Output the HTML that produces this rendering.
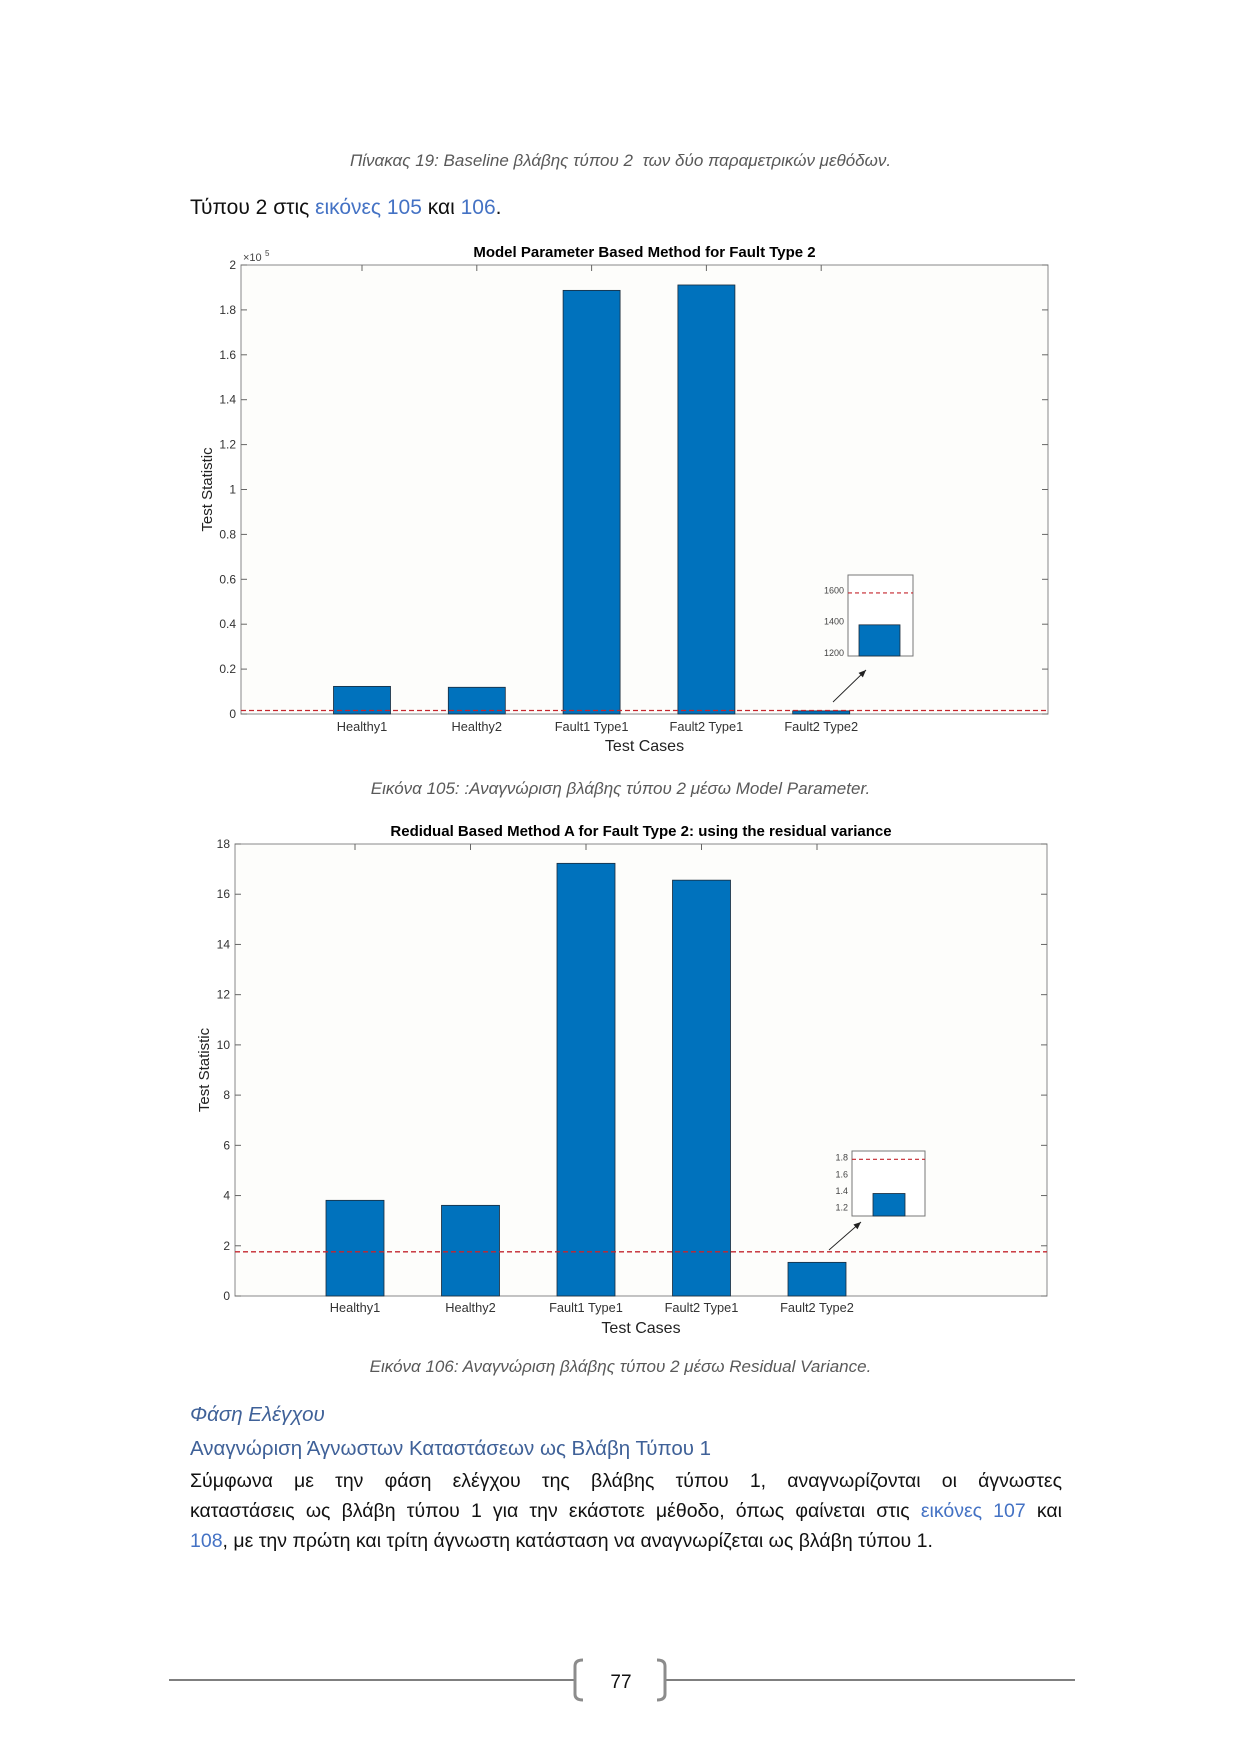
<!DOCTYPE html>
<html><head><meta charset="utf-8"><style>
body{margin:0;background:#fff;}
#page{position:relative;width:1241px;height:1755px;background:#fff;overflow:hidden;font-family:"Liberation Sans","DejaVu Sans",sans-serif;}
.t{position:absolute;white-space:nowrap;}
.cap{font-style:italic;color:#595959;font-size:17px;left:0;width:1241px;text-align:center;}
.blue{color:#4472c4;}
.pl{position:absolute;left:190px;width:872px;font-size:19.5px;color:#111;white-space:nowrap;}
.just{text-align:justify;text-align-last:justify;}
</style></head><body>
<div id="page">
<div class="t cap" style="top:151px">Πίνακας 19: Baseline βλάβης τύπου 2&nbsp; των δύο παραμετρικών μεθόδων.</div>
<div class="t" style="left:190px;top:196px;font-size:21px;color:#111">Τύπου 2 στις <span class="blue">εικόνες 105</span> και <span class="blue">106</span>.</div>
<svg id="chart1" style="position:absolute;left:0;top:0" width="1241" height="780"></svg>
<div class="t cap" style="top:779px">Εικόνα 105: :Αναγνώριση βλάβης τύπου 2 μέσω Model Parameter.</div>
<svg id="chart2" style="position:absolute;left:0;top:800px" width="1241" height="550"></svg>
<div class="t cap" style="top:1357px">Εικόνα 106: Αναγνώριση βλάβης τύπου 2 μέσω Residual Variance.</div>
<div class="t blue" style="left:190px;top:1403px;font-size:20.5px;font-style:italic;color:#3f6198">Φάση Ελέγχου</div>
<div class="t blue" style="left:190px;top:1437px;font-size:20.5px;color:#3f6198">Αναγνώριση Άγνωστων Καταστάσεων ως Βλάβη Τύπου 1</div>
<div>
<div class="pl just" style="top:1470px">Σύμφωνα με την φάση ελέγχου της βλάβης τύπου 1, αναγνωρίζονται οι άγνωστες</div>
<div class="pl just" style="top:1500px">καταστάσεις ως βλάβη τύπου 1 για την εκάστοτε μέθοδο, όπως φαίνεται στις <span class="blue">εικόνες 107</span> και</div>
<div class="pl" style="top:1530px"><span class="blue">108</span>, με την πρώτη και τρίτη άγνωστη κατάσταση να αναγνωρίζεται ως βλάβη τύπου 1.</div>
</div>
<svg style="position:absolute;left:0;top:1648px" width="1241" height="70">
<line x1="169" y1="32" x2="575" y2="32" stroke="#7f7f7f" stroke-width="2"/>
<line x1="665" y1="32" x2="1075" y2="32" stroke="#7f7f7f" stroke-width="2"/>
<path d="M583 12 Q575 12 575 18 L575 46 Q575 52 583 52" fill="none" stroke="#8c8c8c" stroke-width="3"/>
<path d="M657 12 Q665 12 665 18 L665 46 Q665 52 657 52" fill="none" stroke="#8c8c8c" stroke-width="3"/>
<text x="621" y="40" text-anchor="middle" font-size="19" fill="#111" font-family="Liberation Sans, sans-serif">77</text>
</svg>
</div>
<script>
const categories = ["Healthy1","Healthy2","Fault1 Type1","Fault2 Type1","Fault2 Type2"];
const values1 = [0.123, 0.119, 1.887, 1.911, 0.0138];
const threshold1 = 0.0157;
const ticks1 = [0,0.2,0.4,0.6,0.8,1,1.2,1.4,1.6,1.8,2];
const inset1Value = 1380;
const inset1Threshold = 1585;
const inset1Ticks = [1200,1400,1600];
const values2 = [3.81, 3.61, 17.23, 16.56, 1.34];
const threshold2 = 1.76;
const ticks2 = [0,2,4,6,8,10,12,14,16,18];
const inset2Value = 1.37;
const inset2Threshold = 1.78;
const inset2Ticks = [1.2,1.4,1.6,1.8];
const NS="http://www.w3.org/2000/svg";
function mk(svg,tag,attrs,txt){const e=document.createElementNS(NS,tag);for(const k in attrs)e.setAttribute(k,attrs[k]);if(txt!==undefined)e.textContent=txt;svg.appendChild(e);return e;}
function draw(svg,o){
  const y=v=>o.bottom-(v-o.ymin)/(o.ymax-o.ymin)*(o.bottom-o.top);
  const xc=i=>o.x0+i*o.step;
  let r=mk(svg,'rect',{x:o.left,y:o.top,width:o.right-o.left,height:o.bottom-o.top,fill:'#fdfdfb',stroke:'#888','stroke-width':1});
  
  let t=mk(svg,'text',{x:(o.left+o.right)/2,y:o.titleY,'text-anchor':'middle','font-size':15,'font-weight':'bold',fill:'#000'},o.title);
  
  o.ticks.forEach(v=>{const yy=y(v);
    mk(svg,'line',{x1:o.left,x2:o.left+6,y1:yy,y2:yy,stroke:'#666'});
    mk(svg,'line',{x1:o.right,x2:o.right-6,y1:yy,y2:yy,stroke:'#666'});
    let l=mk(svg,'text',{x:o.left-5,y:yy+4,'text-anchor':'end','font-size':12,fill:'#333'},String(v));
    });
  if(o.exp){let e=mk(svg,'text',{x:o.left+2,y:o.top-4,'font-size':11,fill:'#444'},'×10');mk(svg,'text',{x:o.left+24,y:o.top-9,'font-size':8,fill:'#444'},'5');}
  categories.forEach((c,i)=>{const x=xc(i);
    mk(svg,'line',{x1:x,x2:x,y1:o.top,y2:o.top+6,stroke:'#666'});
    const b=mk(svg,'rect',{x:x-o.bw/2,y:y(o.vals[i]),width:o.bw,height:o.bottom-y(o.vals[i]),fill:'#0072bd',stroke:'#1a2a3a','stroke-width':0.8});
    
    
    const l=mk(svg,'text',{x:x,y:o.labY,'text-anchor':'middle','font-size':12.8,fill:'#333'},c);
    });
  const th=mk(svg,'line',{x1:o.left,x2:o.right,y1:y(o.th),y2:y(o.th),stroke:'#c4262e','stroke-width':1.3,'stroke-dasharray':'5,3'});
  
  const xl=mk(svg,'text',{x:(o.left+o.right)/2,y:o.xlY,'text-anchor':'middle','font-size':16,fill:'#222'},'Test Cases');
  
  const yl=mk(svg,'text',{x:0,y:0,'text-anchor':'middle','font-size':15,fill:'#222',transform:`translate(${o.ylX},${(o.top+o.bottom)/2}) rotate(-90)`},'Test Statistic');
  
  const I=o.inset; const iy=v=>I.b-(v-I.min)/(I.max-I.min)*(I.b-I.t);
  const ib=mk(svg,'rect',{x:I.l,y:I.t,width:I.r-I.l,height:I.b-I.t,fill:'#fff',stroke:'#777'});
  
  I.ticks.forEach(v=>{mk(svg,'text',{x:I.l-4,y:iy(v)+3,'text-anchor':'end','font-size':9,fill:'#444'},String(v));});
  const ibar=mk(svg,'rect',{x:I.bx,y:iy(I.val),width:I.bw,height:I.b-iy(I.val),fill:'#0072bd',stroke:'#1a2a3a','stroke-width':0.8});
  
  mk(svg,'line',{x1:I.l,x2:I.r,y1:iy(I.th),y2:iy(I.th),stroke:'#c4262e','stroke-width':1.2,'stroke-dasharray':'4,3'});
  const a=I.arrow;
  const ar=mk(svg,'line',{x1:a[0],y1:a[1],x2:a[2],y2:a[3],stroke:'#222','stroke-width':0.9});
  
  const ang=Math.atan2(a[3]-a[1],a[2]-a[0]);
  const p=s=>[a[2]-8*Math.cos(ang+s),a[3]-8*Math.sin(ang+s)];
  mk(svg,'polygon',{points:`${a[2]},${a[3]} ${p(0.4)} ${p(-0.4)}`,fill:'#222'});
}
draw(document.getElementById('chart1'),{left:241,right:1048,top:265,bottom:714,ymin:0,ymax:2,ticks:ticks1,vals:values1,th:threshold1,
  x0:362,step:114.8,bw:57,title:'Model Parameter Based Method for Fault Type 2',titleY:257,labY:731,xlY:751,ylX:212,exp:true,
  inset:{l:848,r:913,t:575,b:656,min:1180,max:1700,ticks:inset1Ticks,val:inset1Value,th:inset1Threshold,bx:859,bw:41,arrow:[833,702,866,670]}});
draw(document.getElementById('chart2'),{left:235,right:1047,top:44,bottom:496,ymin:0,ymax:18,ticks:ticks2,vals:values2,th:threshold2,
  x0:355,step:115.5,bw:58,title:'Redidual Based Method A for Fault Type 2: using the residual variance',titleY:36,labY:512,xlY:533,ylX:209,exp:false,
  inset:{l:852,r:925,t:351,b:416,min:1.1,max:1.88,ticks:inset2Ticks,val:inset2Value,th:inset2Threshold,bx:873,bw:32,arrow:[829,450,861,422]}});
</script>
</body></html>
